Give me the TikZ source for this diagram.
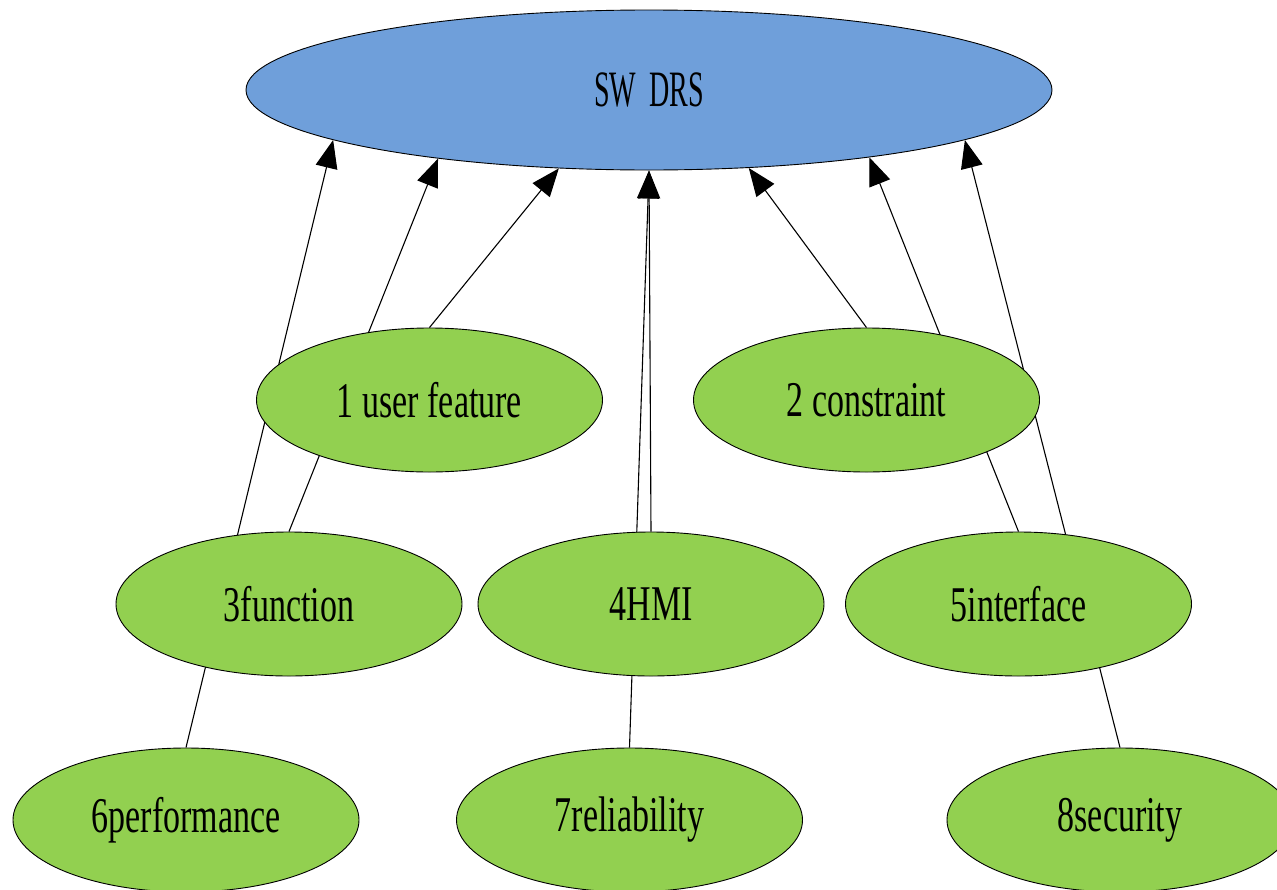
\documentclass[tikz,border=0pt]{standalone}
\usepackage{fontspec}
\usetikzlibrary{shapes.geometric,arrows.meta}
\newfontfamily\labelfont[FakeStretch=0.68]{Liberation Serif}
\newfontfamily\rootfont[FakeStretch=0.55]{Liberation Serif}
\definecolor{rootblue}{RGB}{111,159,218}
\definecolor{leafgreen}{RGB}{146,208,80}
\pgfdeclarelayer{background}
\pgfsetlayers{background,main}
\tikzset{
  req/.style={ellipse, draw=black, line width=0.9pt, fill=leafgreen,
    minimum width=346pt, minimum height=144pt, inner sep=0pt,
    font=\labelfont\fontsize{50}{50}\selectfont},
  rootnode/.style={ellipse, draw=black, line width=0.9pt, fill=rootblue,
    minimum width=806pt, minimum height=160pt, inner sep=0pt,
    font=\rootfont\fontsize{51}{51}\selectfont},
  link/.style={line width=1.1pt, draw=black},
  uplink/.style={link, -{Triangle[length=28pt,width=22pt]}},
}
\begin{document}
\begin{tikzpicture}[x=1pt,y=-1pt]
\useasboundingbox (0,0) rectangle (1277,889);
\clip (0,0) rectangle (1277,889);

% root requirement
\node[rootnode] (drs) at (649,90) {SW\hspace{0.25em}DRS};

% requirement categories
\node[req] (uf)   at (429.5,400) {1 user feature};
\node[req] (con)  at (866.5,400) {2 constraint};
\node[req] (fun)  at (289,604)   {3function};
\node[req] (hmi)  at (651,604)   {4HMI};
\node[req] (itf)  at (1018.5,604) {5interface};
\node[req] (perf) at (186,820)   {6performance};
\node[req] (rel)  at (629.5,820) {7reliability};
\node[req] (sec)  at (1120,820)  {8security};

% all links run behind the ellipses
\begin{pgfonlayer}{background}
\draw[uplink] (perf.north) -- (drs.-171);
\draw[uplink] (fun.north)  -- (drs.-162.7);
\draw[uplink] (uf.north)   -- (drs.-139.5);
\draw[uplink] (rel.north)  -- (drs.-90);
\draw[uplink] (hmi.north)  -- (drs.-90);
\draw[uplink] (con.north)  -- (drs.-38.5);
\draw[uplink] (itf.north)  -- (drs.-17);
\draw[uplink] (sec.north)  -- (drs.-9.46);
\end{pgfonlayer}
\end{tikzpicture}
\end{document}
